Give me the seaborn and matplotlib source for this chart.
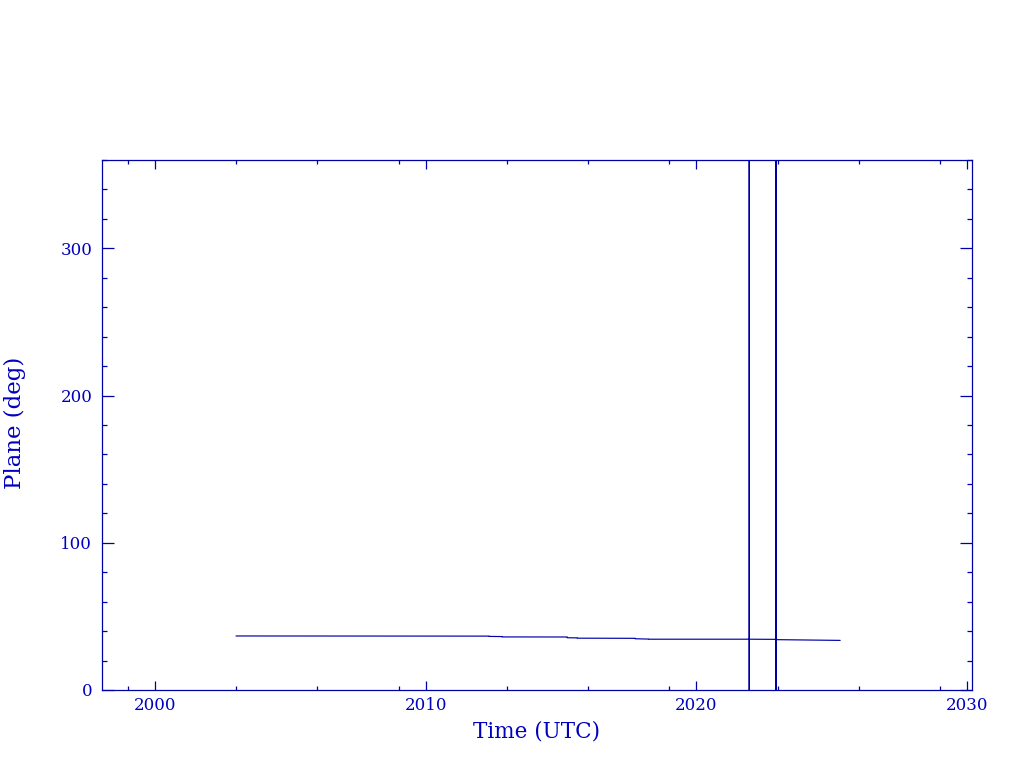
import matplotlib
matplotlib.use("Agg")
import matplotlib.pyplot as plt
import seaborn as sns
import pandas as pd

# Data
times = [2002.99, 2012.34, 2012.34, 2012.82, 2012.82, 2015.23, 2015.23, 2015.60, 2015.60,
         2017.74, 2017.74, 2018.23, 2018.23, 2021.95, 2021.95, 2021.95, 2021.95,
         2022.94, 2022.94, 2022.94, 2022.94, 2024.35, 2024.35, 2025.31]
plane = [36.7, 36.6, 36.4, 36.3, 36.05, 36.0, 35.5, 35.4, 35.2,
         35.1, 34.8, 34.6, 34.5, 34.5, 0.0, 360.0, 34.5,
         34.4, 360.0, 0.0, 34.2, 33.9, 33.9, 33.7]
x_major = [2000, 2010, 2020, 2030]
x_minor = [1999, 2003, 2006, 2009, 2013, 2016, 2019, 2023, 2026, 2029]
y_major = [0, 100, 200, 300]
y_minor = list(range(0, 361, 20))

df = pd.DataFrame({"Time": times, "Plane": plane})

LINE = "#0000a8"
TEXT = "#0000c0"

sns.set_style("white")
plt.rcParams["font.family"] = ["DejaVu Serif"]

fig = plt.figure(figsize=(10.24, 7.68), dpi=100)
ax = fig.add_axes([102 / 1024, 78 / 768, 870 / 1024, 530 / 768])

sns.lineplot(data=df, x="Time", y="Plane", sort=False, estimator=None,
             color=LINE, linewidth=0.85, ax=ax)

ax.set_xlim(1998.04, 2030.18)
ax.set_ylim(0, 360)
ax.set_xticks(x_major)
ax.set_xticks(x_minor, minor=True)
ax.set_yticks(y_major)
ax.set_yticks(y_minor, minor=True)

for s in ax.spines.values():
    s.set_color(LINE)
    s.set_linewidth(0.9)

ax.tick_params(axis="x", which="major", direction="in", length=6.5, width=0.9,
               color=LINE, top=True, bottom=True, labelcolor=TEXT, labelsize=12, pad=5)
ax.tick_params(axis="x", which="minor", direction="in", length=3.2, width=0.9,
               color=LINE, top=True, bottom=True)
ax.tick_params(axis="y", which="major", direction="in", length=8.8, width=0.9,
               color=LINE, left=True, right=True, labelcolor=TEXT, labelsize=12, pad=7)
ax.tick_params(axis="y", which="minor", direction="in", length=3.6, width=0.9,
               color=LINE, left=True, right=True)

ax.set_xlabel("Time (UTC)", color=TEXT, fontsize=15.5, labelpad=5)
ax.set_ylabel("")
fig.text(15 / 1024, 1 - 423 / 768, "Plane (deg)", color=TEXT, fontsize=16.5,
         rotation=90, ha="center", va="center")

fig.savefig("out.png", dpi=100, facecolor="white")
